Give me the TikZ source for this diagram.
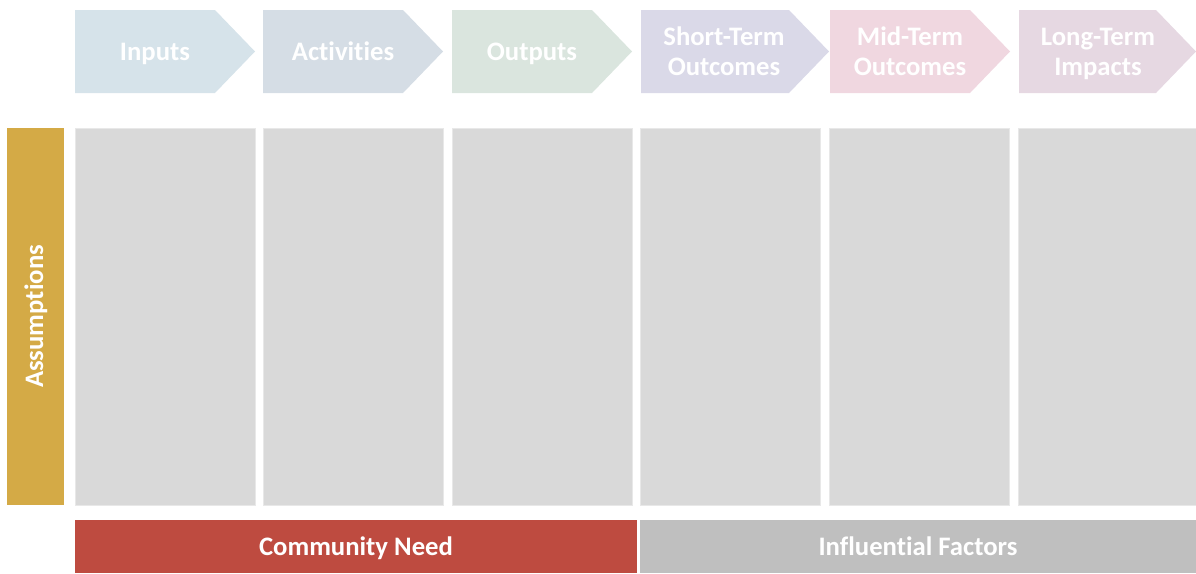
\documentclass[tikz,border=0pt]{standalone}
\usepackage{fontspec}
\setmainfont{Carlito}[Ligatures=NoCommon]
\definecolor{cIn}{RGB}{214,227,234}
\definecolor{cAct}{RGB}{213,221,229}
\definecolor{cOut}{RGB}{218,229,222}
\definecolor{cShort}{RGB}{218,217,232}
\definecolor{cMid}{RGB}{240,215,224}
\definecolor{cLong}{RGB}{230,216,226}
\definecolor{colgray}{RGB}{217,217,217}
\definecolor{colborder}{RGB}{232,232,232}
\definecolor{gold}{RGB}{212,170,70}
\definecolor{need}{RGB}{190,75,64}
\definecolor{infl}{RGB}{191,191,191}
\tikzset{
  chevtext/.style={text=white,font=\fontsize{26.7}{30}\selectfont\bfseries,align=center,inner sep=0pt,anchor=base},
  colbox/.style={fill=colgray,draw=colborder,line width=1pt},
  bartext/.style={text=white,font=\fontsize{26.7}{30}\selectfont\bfseries,inner sep=0pt,anchor=base},
}
\begin{document}
\begin{tikzpicture}[x=1pt,y=-1pt]
\useasboundingbox (0,0) rectangle (1196,573);
% chevrons
\foreach \x/\w/\c in {75/180/cIn,263/180/cAct,452/180/cOut,641/188/cShort,830/180/cMid,1019/177/cLong}{
  \fill[\c] (\x,10) -- ({\x+\w-40},10) -- ({\x+\w},51.5) -- ({\x+\w-40},93) -- (\x,93) -- cycle;
}
\node[chevtext] (inputs) at (155,60) {Inputs};
\node[chevtext] (activities) at (343,60) {Activities};
\node[chevtext] (outputs) at (532,60) {Outputs};
\node[chevtext] (short1) at (724,45) {Short-Term};
\node[chevtext] (short2) at (724,75) {Outcomes};
\node[chevtext] (mid1) at (910,45) {Mid-Term};
\node[chevtext] (mid2) at (910,75) {Outcomes};
\node[chevtext] (long1) at (1098,45) {Long-Term};
\node[chevtext] (long2) at (1098,75) {Impacts};
% columns
\foreach \x/\xx in {75/255,263/443,452/632,640/820,829/1009,1018/1196}{
  \draw[colbox] (\x,128.5) rectangle (\xx,505);
}
% assumptions
\fill[gold] (7,128) rectangle (64,505);
\node[bartext,rotate=90] (assumptions) at (43,316.5) {Assumptions};
% bottom bars
\fill[need] (75,520) rectangle (637,573);
\fill[infl] (640,520) rectangle (1196,573);
\node[bartext] (cneed) at (356,555.5) {Community Need};
\node[bartext] (ifact) at (918,555.5) {Influential Factors};
\end{tikzpicture}
\end{document}
